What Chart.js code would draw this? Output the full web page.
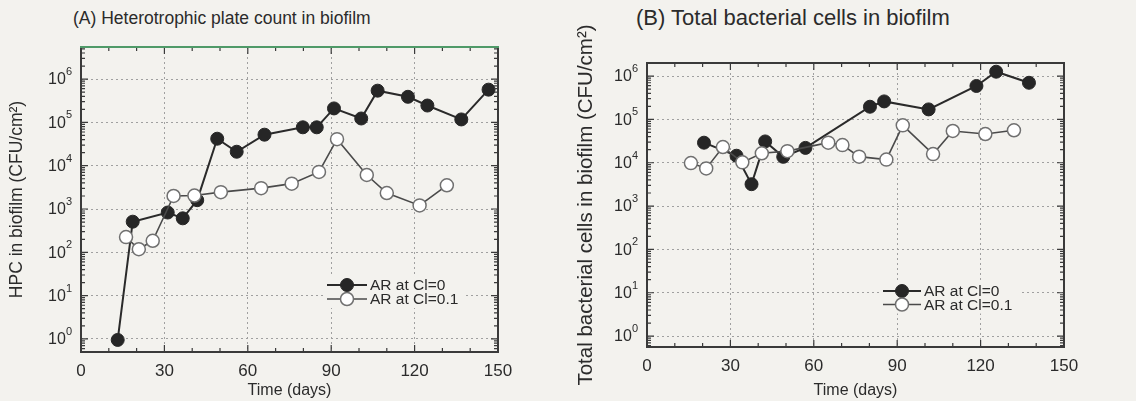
<!DOCTYPE html>
<html><head><meta charset="utf-8">
<script src="https://cdn.jsdelivr.net/npm/chart.js@4.4.0/dist/chart.umd.min.js"></script>
<style>
html,body{margin:0;padding:0;background:#f3f2ee;}
body{width:1136px;height:401px;position:relative;overflow:hidden;font-family:"Liberation Sans",Arial,sans-serif;color:#2b2b2b;}
.wrap{position:absolute;top:0;height:401px;width:568px;}
#wa{left:0;}
#wb{left:568px;}
.ttl{position:absolute;white-space:nowrap;color:#2b2b2b;font-family:"Liberation Sans",Arial,sans-serif;}
</style></head><body>
<div class="ttl" id="ta" style="left:73px;top:8px;font-size:17.5px">(A) Heterotrophic plate count in biofilm</div>
<div class="ttl" id="tb" style="left:636px;top:5px;font-size:22px">(B) Total bacterial cells in biofilm</div>
<div class="wrap" id="wa"><canvas id="ca" width="568" height="401"></canvas></div>
<div class="wrap" id="wb"><canvas id="cb" width="568" height="401"></canvas></div>
<script>
// ---- data ----
const seriesNames = ['AR at Cl=0', 'AR at Cl=0.1'];
const xTicks = [0, 30, 60, 90, 120, 150];
const xMinorTicks = [10, 20, 40, 50, 70, 80, 100, 110, 130, 140];
const yTicks = [1, 10, 100, 1000, 10000, 100000, 1000000];
const yTickExp = ['0', '1', '2', '3', '4', '5', '6'];
const xTitle = 'Time (days)';
const yTitleA = 'HPC in biofilm (CFU/cm²)';
const yTitleB = 'Total bacterial cells in biofilm (CFU/cm²)';

// Panel A: heterotrophic plate count
const aDaysCl0 = [13.2, 18.6, 31.2, 36.6, 41.8, 49, 56, 66, 79.8, 84.8, 91, 100.8, 106.7, 117.6, 124.6, 136.8, 146.6];
const aHpcCl0  = [0.95, 510, 830, 610, 1600, 42000, 21000, 52000, 77000, 77000, 210000, 123000, 540000, 390000, 245000, 117000, 570000];
const aDaysCl01 = [16.2, 20.8, 25.8, 33.3, 40.8, 50.3, 64.8, 75.8, 85.6, 92.1, 102.8, 110, 121.8, 131.6];
const aHpcCl01  = [225, 118, 185, 2000, 2050, 2450, 3030, 3850, 7200, 41000, 6100, 2340, 1210, 3530];

// Panel B: total bacterial cells
const bDaysCl0 = [20.5, 32.2, 37.6, 42.5, 49, 57, 80.2, 85.3, 101.3, 118.5, 125.6, 137.4];
const bCellsCl0 = [29000, 14500, 3200, 31000, 13700, 22000, 196000, 260000, 170000, 590000, 1260000, 700000];
const bDaysCl01 = [15.8, 21.3, 27.3, 34.3, 41.3, 50.5, 65.2, 70.3, 76.3, 86.1, 92, 102.9, 110, 121.7, 132];
const bCellsCl01 = [9800, 7400, 23000, 10200, 16500, 18500, 29000, 25500, 13800, 11800, 73000, 15800, 54000, 46000, 56000];

// ---- helpers ----
const FONT = '"Liberation Sans", Arial, sans-serif';
const TXT = '#2b2b2b';
const pts = (xs, ys) => xs.map((x, i) => ({x: x, y: ys[i]}));

const framePlugin = {
  id: 'frame',
  afterDatasetsDraw(chart, args, o) {
    const {ctx, chartArea: ca, scales: {x, y}} = chart;
    ctx.save();
    ctx.strokeStyle = '#3a3a3a';
    ctx.lineWidth = 1.2;
    const vt = (px, len) => { ctx.beginPath(); ctx.moveTo(px, ca.bottom); ctx.lineTo(px, ca.bottom - len); ctx.moveTo(px, ca.top); ctx.lineTo(px, ca.top + len); ctx.stroke(); };
    const ht = (py, len) => { ctx.beginPath(); ctx.moveTo(ca.left, py); ctx.lineTo(ca.left + len, py); ctx.moveTo(ca.right, py); ctx.lineTo(ca.right - len, py); ctx.stroke(); };
    xTicks.forEach(v => vt(x.getPixelForValue(v), 7));
    xMinorTicks.forEach(v => vt(x.getPixelForValue(v), 4));
    yTicks.forEach(v => {
      ht(y.getPixelForValue(v), 7);
      for (let k = 2; k <= 9; k++) {
        const mv = v * k;
        if (mv <= y.max && mv >= y.min) ht(y.getPixelForValue(mv), 4);
      }
    });
    for (let k = 2; k <= 9; k++) { const mv = k / 10; if (mv >= y.min) ht(y.getPixelForValue(mv), 4); }
    ctx.lineWidth = 2;
    ctx.strokeStyle = '#3a3a3a';
    ctx.beginPath();
    ctx.moveTo(ca.left, ca.top); ctx.lineTo(ca.left, ca.bottom); ctx.lineTo(ca.right, ca.bottom); ctx.lineTo(ca.right, ca.top);
    ctx.stroke();
    ctx.strokeStyle = o.topColor || '#3a3a3a';
    ctx.beginPath(); ctx.moveTo(ca.left - 1, ca.top); ctx.lineTo(ca.right + 1, ca.top); ctx.stroke();
    // y tick labels: "10" with superscript exponent
    ctx.fillStyle = TXT;
    ctx.textBaseline = 'middle';
    yTicks.forEach((v, i) => {
      const py = y.getPixelForValue(v);
      ctx.font = '11px ' + FONT;
      const ew = ctx.measureText(yTickExp[i]).width;
      const xr = ca.left - o.labelGap;
      ctx.textAlign = 'right';
      ctx.fillText(yTickExp[i], xr, py - 7);
      ctx.font = '16px ' + FONT;
      ctx.fillText('10', xr - ew, py + 1);
    });
    ctx.restore();
  }
};

const legendPlugin = {
  id: 'inlegend',
  afterDatasetsDraw(chart, args, o) {
    const {ctx, chartArea: ca} = chart;
    const order = [1, 0];
    const x0 = ca.right + o.dx;
    const y0 = ca.bottom + o.dy;
    ctx.save();
    ctx.fillStyle = '#f3f2ee';
    ctx.fillRect(x0 - 4, y0 - 9, o.boxW, o.row + 18);
    order.forEach((di, row) => {
      const ds = chart.data.datasets[di];
      const y = y0 + row * o.row;
      ctx.strokeStyle = ds.borderColor; ctx.lineWidth = ds.borderWidth;
      ctx.beginPath(); ctx.moveTo(x0, y); ctx.lineTo(x0 + o.len, y); ctx.stroke();
      ctx.beginPath(); ctx.arc(x0 + o.len / 2, y, ds.pointRadius, 0, 2 * Math.PI);
      ctx.fillStyle = ds.pointBackgroundColor; ctx.fill();
      ctx.lineWidth = ds.pointBorderWidth; ctx.strokeStyle = ds.pointBorderColor; ctx.stroke();
      ctx.fillStyle = TXT; ctx.font = o.fs + 'px ' + FONT; ctx.textBaseline = 'middle'; ctx.textAlign = 'left';
      ctx.fillText(ds.label, x0 + o.len + 3, y + 1);
    });
    ctx.restore();
  }
};

function makeChart(id, c) {
  return new Chart(document.getElementById(id), {
    type: 'scatter',
    data: {datasets: [
      {label: seriesNames[1], data: pts(c.x1, c.y1), showLine: true, borderColor: '#4a4a4a', borderWidth: 1.6,
       pointRadius: 6.5, pointBackgroundColor: '#ffffff', pointBorderColor: '#707070', pointBorderWidth: 1.5},
      {label: seriesNames[0], data: pts(c.x0, c.y0), showLine: true, borderColor: '#2a2a2a', borderWidth: 2,
       pointRadius: 6.5, pointBackgroundColor: '#262626', pointBorderColor: '#262626', pointBorderWidth: 1}
    ]},
    options: {
      responsive: false, animation: false, maintainAspectRatio: false,
      layout: {padding: {top: c.top, right: c.right, left: 0, bottom: 0}},
      plugins: {legend: {display: false}, tooltip: {enabled: false},
        frame: {topColor: c.topColor, labelGap: 9},
        inlegend: c.legend},
      scales: {
        x: {type: 'linear', min: 0, max: 150,
          afterBuildTicks: s => { s.ticks = xTicks.map(v => ({value: v})); },
          afterFit: s => { s.height = c.xh; },
          ticks: {autoSkip: false, maxRotation: 0, font: {size: 17, family: FONT}, color: TXT, padding: 9},
          grid: {drawTicks: false, lineWidth: 1,
            color: ctx => (ctx.tick && (ctx.tick.value === 0 || ctx.tick.value === 150)) ? 'rgba(0,0,0,0)' : '#a0a0a0'},
          border: {display: false, dash: [2, 3]},
          title: {display: true, text: xTitle, font: {size: 16, family: FONT}, color: TXT, padding: {top: 0, bottom: 1}}
        },
        y: {type: 'logarithmic', min: c.ymin, max: c.ymax,
          afterBuildTicks: s => { s.ticks = yTicks.map(v => ({value: v})); },
          afterFit: s => { s.width = c.yw; },
          ticks: {display: false, autoSkip: false},
          grid: {drawTicks: false, lineWidth: 1, color: '#a0a0a0'},
          border: {display: false, dash: [2, 3]},
          title: {display: true, text: c.ytitle, font: {size: c.ytfs, family: FONT}, color: TXT, padding: {top: c.ytp, bottom: 0}}
        }
      }
    },
    plugins: [framePlugin, legendPlugin]
  });
}

makeChart('ca', {x0: aDaysCl0, y0: aHpcCl0, x1: aDaysCl01, y1: aHpcCl01,
  top: 47, right: 70, xh: 49, yw: 81, ymin: 0.5, ymax: 5.5e6, ytitle: yTitleA, ytfs: 17.5, ytp: 7,
  topColor: '#4f9a68',
  legend: {dx: -171, dy: -67, row: 14, len: 40, boxW: 140, fs: 15.5}});
makeChart('cb', {x0: bDaysCl0, y0: bCellsCl0, x1: bDaysCl01, y1: bCellsCl01,
  top: 63, right: 72, xh: 54, yw: 79, ymin: 0.56, ymax: 2.0e6, ytitle: yTitleB, ytfs: 20.5, ytp: 6,
  topColor: '#3a3a3a',
  legend: {dx: -181, dy: -56, row: 13.5, len: 38, boxW: 140, fs: 15.5}});
</script>
</body></html>
